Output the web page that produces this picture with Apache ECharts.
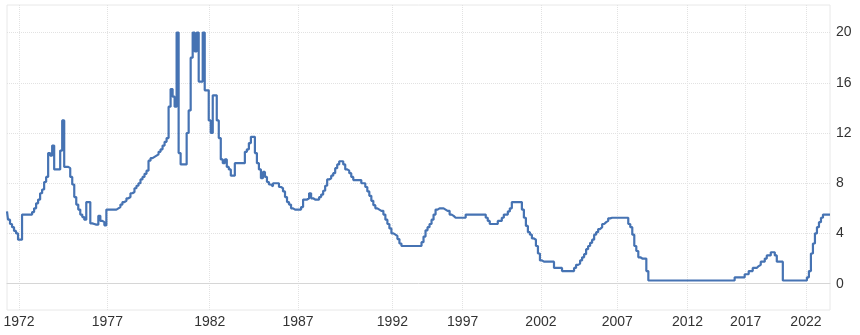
<!DOCTYPE html>
<html>
<head>
<meta charset="utf-8">
<script src="https://cdn.jsdelivr.net/npm/echarts@6/dist/echarts.min.js"></script>
<style>
    html, body { margin: 0; padding: 0; background: #fff; }
    #myChart { width: 860px; height: 335px; }
</style>
</head>
<body>
<div id="myChart"></div>
<script>
    // one row of readings per year
    var years = [1971, 1972, 1973, 1974, 1975, 1976, 1977, 1978, 1979, 1980,
        1981, 1982, 1983, 1984, 1985, 1986, 1987, 1988, 1989, 1990,
        1991, 1992, 1993, 1994, 1995, 1996, 1997, 1998, 1999, 2000,
        2001, 2002, 2003, 2004, 2005, 2006, 2007, 2008, 2009, 2010,
        2011, 2012, 2013, 2014, 2015, 2016, 2017, 2018, 2019, 2020,
        2021, 2022, 2023]
    var rates = [
        [5.75, 5.1, 4.75, 4.5, 4.2, 4.0],
        [3.5, 3.5, 5.5, 5.5, 5.5, 5.5, 5.5, 5.7, 6.0],
        [6.4, 6.7, 7.2, 7.5, 8.1, 8.5, 10.4, 10.2, 11.0],
        [9.1, 9.1, 9.1, 10.6, 13.0, 9.3, 9.3, 9.2, 8.5],
        [7.9, 6.9, 6.3, 5.9, 5.5, 5.3, 5.1, 6.5, 6.5],
        [4.8, 4.75, 4.7, 4.7, 5.4, 5.0, 4.9, 4.65],
        [5.9, 5.9, 5.9, 5.9, 5.9, 6.0, 6.1, 6.3, 6.5, 6.6],
        [6.8, 6.9, 7.2, 7.3, 7.6, 7.8, 8.0, 8.3, 8.5, 8.75],
        [9.0, 9.8, 10.0, 10.1, 10.2, 10.3, 10.5, 10.7, 11.0, 11.3],
        [11.6, 14.1, 15.5, 14.9, 14.1, 20.0, 10.4, 9.5, 9.5, 9.5, 12.0],
        [13.8, 18.0, 20.0, 18.5, 20.0, 16.1, 16.1, 20.0, 15.4, 15.4],
        [13.0, 12.0, 15.0, 15.0, 13.0, 11.6, 9.9, 9.6, 9.9],
        [9.3, 9.1, 8.6, 8.6, 9.6, 9.6, 9.6, 9.6, 9.6],
        [10.5, 10.7, 11.2, 11.7, 11.7, 10.4, 9.6, 9.1, 8.4],
        [8.9, 8.5, 8.1, 7.9, 7.75, 8.0, 8.0, 8.0, 7.7],
        [7.6, 7.35, 6.9, 6.5, 6.3, 6.0, 5.9, 5.9],
        [5.9, 5.9, 6.1, 6.7, 6.7, 6.8, 7.2, 6.8, 6.7, 6.7],
        [6.7, 6.9, 7.1, 7.4, 7.8, 8.3, 8.4, 8.6, 8.8],
        [9.2, 9.5, 9.75, 9.75, 9.5, 9.1, 9.0, 8.8, 8.5, 8.25],
        [8.25, 8.25, 8.25, 8.0, 8.0, 7.7, 7.35, 7.0, 6.6],
        [6.25, 6.0, 5.9, 5.8, 5.8, 5.5, 5.1, 4.75, 4.4],
        [4.0, 3.9, 3.8, 3.55, 3.2, 3.0, 3.0],
        [3.0, 3.0, 3.0, 3.0, 3.0, 3.0, 3.0],
        [3.0, 3.3, 3.75, 4.25, 4.5, 4.75, 5.1],
        [5.5, 5.9, 6.0, 6.0, 6.0, 5.9, 5.8],
        [5.8, 5.5, 5.4, 5.25, 5.25, 5.25, 5.25],
        [5.25, 5.25, 5.5, 5.5, 5.5, 5.5, 5.5, 5.5],
        [5.5, 5.5, 5.5, 5.5, 5.25, 5.0, 4.75, 4.75],
        [4.75, 4.75, 5.0, 5.0, 5.25, 5.5, 5.5, 5.75],
        [6.0, 6.5, 6.5, 6.5, 6.5, 6.5, 5.9, 5.25],
        [4.6, 4.1, 3.9, 3.6, 3.5, 3.0, 2.4],
        [1.85, 1.75, 1.75, 1.75, 1.75, 1.75, 1.75, 1.25],
        [1.25, 1.25, 1.25, 1.0, 1.0, 1.0, 1.0],
        [1.0, 1.0, 1.25, 1.5, 1.6, 1.85, 2.1, 2.35],
        [2.75, 3.0, 3.25, 3.5, 3.9, 4.1, 4.35],
        [4.5, 4.75, 4.9, 5.0, 5.2, 5.25, 5.25, 5.25],
        [5.25, 5.25, 5.25, 5.25, 5.25, 5.25, 4.75],
        [4.5, 3.9, 3.0, 2.6, 2.1, 2.0, 2.0],
        [2.0, 1.0, 0.25, 0.25, 0.25, 0.25, 0.25],
        [0.25, 0.25, 0.25, 0.25, 0.25, 0.25, 0.25],
        [0.25, 0.25, 0.25, 0.25, 0.25, 0.25, 0.25],
        [0.25, 0.25, 0.25, 0.25, 0.25, 0.25],
        [0.25, 0.25, 0.25, 0.25, 0.25, 0.25],
        [0.25, 0.25, 0.25, 0.25, 0.25, 0.25],
        [0.25, 0.25, 0.25, 0.25, 0.25, 0.25],
        [0.5, 0.5, 0.5, 0.5, 0.5],
        [0.75, 0.75, 1.0, 1.0, 1.25, 1.25],
        [1.4, 1.5, 1.75, 1.75, 2.0, 2.25],
        [2.25, 2.5, 2.5, 2.25, 1.75, 1.75],
        [1.75, 0.25, 0.25, 0.25, 0.25, 0.25],
        [0.25, 0.25, 0.25, 0.25, 0.25, 0.25],
        [0.25, 0.5, 1.0, 2.4, 3.2, 4.0, 4.5],
        [4.9, 5.25, 5.5, 5.5, 5.5, 5.5]
    ]
    // years that get a label and a grid line
    var tickYears = ['1972', '1977', '1982', '1987', '1992', '1997', '2002', '2007', '2012', '2017', '2022']
    var yTicks = [0, 4, 8, 12, 16, 20]

    var categories = []
    var values = []
    for (var k = 0; k < years.length; k++) {
        for (var j = 0; j < rates[k].length; j++) {
            categories.push(years[k] + '-' + j)
            values.push(rates[k][j])
        }
    }
    // first reading of a tick year
    function isTick (index, value) {
        var parts = String(value).split('-')
        return parts[1] === '0' && tickYears.indexOf(parts[0]) > -1
    }

    var myChart = echarts.init(document.getElementById('myChart'))
    var gridLine = {color: '#e2e2e2', type: 'dotted', width: 1}
    myChart.setOption({
        animation: false,
        grid: {
            left: 7, right: 30, top: 5, bottom: 25,
            show: true, borderColor: '#e8e8e8', borderWidth: 1
        },
        xAxis: {
            type: 'category',
            data: categories,
            boundaryGap: false,
            axisLine: {lineStyle: {color: '#d6d6d6'}},
            axisTick: {show: false},
            axisLabel: {
                interval: isTick,
                formatter: function (v) { return v.split('-')[0] },
                color: '#333',
                fontFamily: 'Liberation Sans, Arial',
                fontSize: 14,
                margin: 5
            },
            splitLine: {show: true, interval: isTick, lineStyle: gridLine}
        },
        yAxis: {
            type: 'value',
            position: 'right',
            min: -2.1,
            max: 22.2,
            axisLine: {show: false},
            // ticks (and so the grid lines) only at the labelled values
            axisTick: {show: false, customValues: yTicks},
            axisLabel: {
                customValues: yTicks,
                color: '#333',
                fontFamily: 'Liberation Sans, Arial',
                fontSize: 14,
                margin: 6
            },
            splitLine: {lineStyle: gridLine}
        },
        series: [{
            type: 'line',
            step: 'middle',
            data: values,
            symbol: 'none',
            lineStyle: {color: '#4673b3', width: 2.2}
        }]
    })
</script>
</body>
</html>
